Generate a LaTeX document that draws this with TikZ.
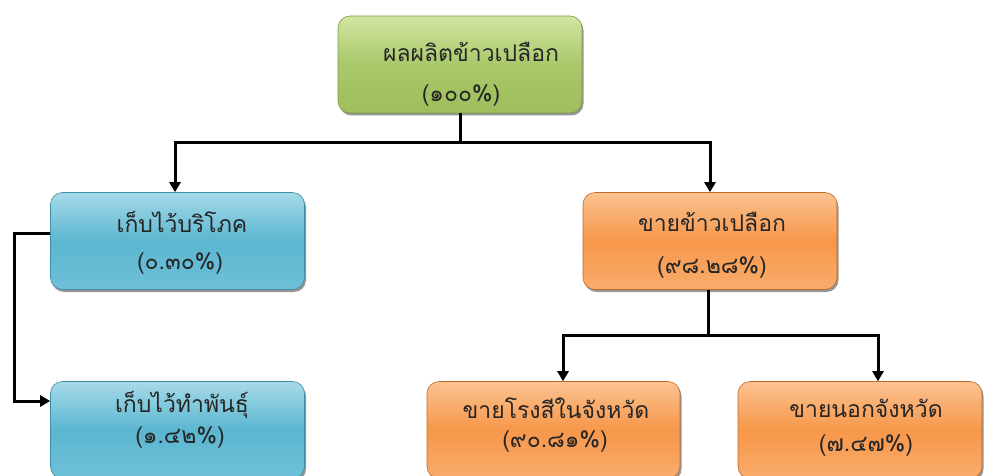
\documentclass[tikz,border=0pt]{standalone}
\usepackage{fontspec}
\newfontfamily\thaifont[Script=Thai]{Loma}
\usetikzlibrary{arrows.meta,shadows,calc}
\definecolor{gtop}{HTML}{D2E5A2}
\definecolor{gmid}{HTML}{A9C86A}
\definecolor{gbot}{HTML}{9EBE5C}
\definecolor{gline}{HTML}{7E9A45}
\definecolor{btop}{HTML}{A6DAE9}
\definecolor{bmid}{HTML}{5BB6D0}
\definecolor{bbot}{HTML}{6EC0D8}
\definecolor{bline}{HTML}{3C8DA5}
\definecolor{otop}{HTML}{FBC291}
\definecolor{omid}{HTML}{F7974A}
\definecolor{obot}{HTML}{F9AC6C}
\definecolor{oline}{HTML}{C06A25}
\definecolor{txt}{HTML}{262626}
\begin{document}
\begin{tikzpicture}[x=1pt,y=-1pt,
  boxbase/.style={rounded corners=12pt, minimum height=97pt, inner sep=0pt, line width=0.6pt,
    drop shadow={shadow xshift=1.5pt, shadow yshift=-2.5pt, opacity=0.55, fill=black!75}},
  greenbox/.style={boxbase, draw=gline, top color=gtop, bottom color=gbot, middle color=gmid},
  bluebox/.style={boxbase, draw=bline, top color=btop, bottom color=bbot, middle color=bmid},
  orangebox/.style={boxbase, draw=oline, top color=otop, bottom color=obot, middle color=omid},
  lbl/.style={font=\thaifont\fontsize{23}{26}\selectfont, text=txt, inner sep=0pt},
  conn/.style={line width=3pt, black},
  arr/.style={conn, -{Triangle[length=10pt,width=11pt]}}
]
\useasboundingbox (0,0) rectangle (985,476);
% boxes
\node[greenbox, minimum width=244pt] (top) at (460,64.5) {};
\node[bluebox, minimum width=254pt] (keep) at (177.5,241) {};
\node[orangebox, minimum width=254pt] (sell) at (710,241) {};
\node[bluebox, minimum width=254pt] (seed) at (177.5,430) {};
\node[orangebox, minimum width=253pt] (mill) at (553.5,430) {};
\node[orangebox, minimum width=244pt] (out) at (860,430) {};
% labels
\node[lbl] (top1) at (471,52) {ผลผลิตข้าวเปลือก};
\node[lbl] (top2) at (461,96) {(๑๐๐\%)};
\node[lbl] (keep1) at (182,222) {เก็บไว้บริโภค};
\node[lbl] (keep2) at (180,264) {(๐.๓๐\%)};
\node[lbl] (sell1) at (712,222) {ขายข้าวเปลือก};
\node[lbl] (sell2) at (712,268) {(๙๘.๒๘\%)};
\node[lbl] (seed1) at (182,405) {เก็บไว้ทำพันธุ์};
\node[lbl] (seed2) at (180,438) {(๑.๔๒\%)};
\node[lbl] (mill1) at (556,408) {ขายโรงสีในจังหวัด};
\node[lbl] (mill2) at (555,442) {(๙๐.๘๑\%)};
\node[lbl] (out1) at (866,408) {ขายนอกจังหวัด};
\node[lbl] (out2) at (866,446) {(๗.๔๗\%)};
% connectors
\coordinate (j1) at (460,143);
\coordinate (j2) at (708,335);
\coordinate (b1) at (14,233);
\draw[conn] (top.south) -- (j1);
\draw[arr] (j1) -| ([xshift=-2.5pt]keep.north);
\draw[arr] (j1) -| (sell.north);
\draw[conn] (sell.south -| j2) -- (j2);
\draw[arr] (j2) -| ([xshift=9.5pt]mill.north);
\draw[arr] (j2) -| ([xshift=18pt]out.north);
\draw[arr] (keep.west |- b1) -- (b1) |- ([yshift=29pt]seed.west);
\end{tikzpicture}
\end{document}
